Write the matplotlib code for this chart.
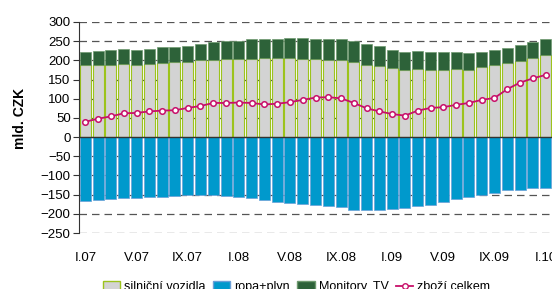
import matplotlib
matplotlib.use("Agg")
import matplotlib.pyplot as plt
from matplotlib.lines import Line2D
from matplotlib.patches import Patch

plt.rcParams["font.family"] = ["Liberation Sans", "DejaVu Sans"]

months = ["I.07", "II.07", "III.07", "IV.07", "V.07", "VI.07", "VII.07", "VIII.07", "IX.07", "X.07", "XI.07", "XII.07",
          "I.08", "II.08", "III.08", "IV.08", "V.08", "VI.08", "VII.08", "VIII.08", "IX.08", "X.08", "XI.08", "XII.08",
          "I.09", "II.09", "III.09", "IV.09", "V.09", "VI.09", "VII.09", "VIII.09", "IX.09", "X.09", "XI.09", "XII.09",
          "I.10"]
vozidla = [187, 188, 188, 190, 187, 190, 194, 196, 197, 200, 202, 203, 204, 204, 206, 206, 206, 204, 203, 202, 202,
           197, 188, 186, 180, 176, 177, 176, 176, 177, 176, 182, 187, 193, 199, 206, 215]
monitory = [35, 37, 39, 40, 41, 40, 40, 40, 41, 43, 45, 47, 47, 51, 49, 50, 52, 53, 53, 54, 54,
            53, 55, 51, 48, 47, 48, 46, 45, 45, 43, 41, 39, 40, 42, 41, 40]
ropa = [-166, -164, -162, -160, -158, -156, -156, -154, -152, -151, -151, -154, -157, -160, -164, -168, -173, -175,
        -177, -179, -182, -189, -189, -190, -187, -185, -180, -176, -168, -162, -157, -152, -147, -139, -138, -133, -133]
celkem = [40, 48, 54, 62, 63, 67, 69, 70, 76, 81, 89, 89, 90, 89, 85, 87, 91, 97, 103, 104, 101,
          89, 75, 67, 60, 56, 69, 76, 78, 84, 89, 97, 102, 125, 142, 153, 162]

C_GRAY = "#d3d3d3"
C_GRAY_EDGE = "#9cc31c"
C_BLUE = "#0099cc"
C_GREEN = "#2d6239"
C_LINE = "#c8106a"

fig = plt.figure(figsize=(5.52, 2.89), dpi=100)
ax = fig.add_axes([79 / 552, 1 - 233 / 289, 1 - 79 / 552, (233 - 22) / 289])

x = list(range(len(months)))
w = 0.86
ax.bar(x, vozidla, w, color=C_GRAY, edgecolor=C_GRAY_EDGE, linewidth=0.8, zorder=2)
ax.bar(x, monitory, w, bottom=vozidla, color=C_GREEN, edgecolor="#6f9a6f", linewidth=0.5, zorder=2)
ax.bar(x, ropa, w, color=C_BLUE, edgecolor="#6a9fd8", linewidth=0.5, zorder=2)
ax.plot(x, celkem, color=C_LINE, lw=1.3, marker="o", ms=4, mfc="white", mec=C_LINE, mew=1.1, zorder=4)

ax.axhline(0, color="#333333", lw=1.0, zorder=3)
ax.set_xlim(-0.5, len(months) - 0.5)
ax.set_ylim(-250, 300)
ax.set_yticks(range(-250, 301, 50))
ax.yaxis.grid(True, ls=(0, (6, 4)), color="#555555", lw=0.9, zorder=0)
ax.set_axisbelow(True)
ax.set_xticks(x[::4])
ax.set_xticklabels(months[::4])
ax.tick_params(axis="x", length=0, pad=14, labelsize=9.5)
ax.tick_params(axis="y", length=4, width=0.8, color="#333333", labelsize=9.5, pad=2)
for s in ["top", "right", "bottom"]:
    ax.spines[s].set_visible(False)
ax.spines["left"].set_color("#333333")

fig.text(20 / 552, 1 - 118 / 289, "mld. CZK", rotation=90, ha="center", va="center",
         fontsize=10, fontweight="bold")

handles = [Patch(facecolor=C_GRAY, edgecolor=C_GRAY_EDGE, label="silniční vozidla"),
           Patch(facecolor=C_BLUE, edgecolor="#6a9fd8", label="ropa+plyn"),
           Patch(facecolor=C_GREEN, edgecolor="#6f9a6f", label="Monitory, TV"),
           Line2D([], [], color=C_LINE, lw=1.3, marker="o", ms=4, mfc="white", mec=C_LINE, label="zboží celkem")]
fig.legend(handles=handles, loc="center", bbox_to_anchor=(0.537, 1 - 287 / 289), ncol=4, frameon=False,
           fontsize=9, handlelength=1.4, handleheight=0.9, handletextpad=0.3, columnspacing=0.6)

fig.savefig("out.png", dpi=100)
